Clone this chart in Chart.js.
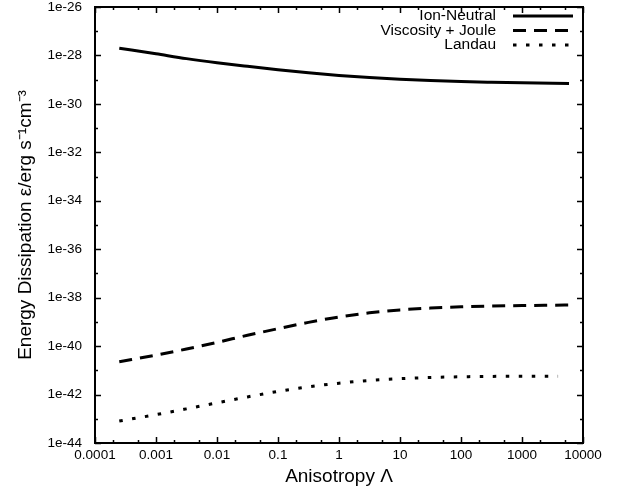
<!DOCTYPE html>
<html>
<head>
<meta charset="utf-8">
<script src="https://cdn.jsdelivr.net/npm/chart.js@4"></script>
<style>
    body { margin: 0; background: #fff; }
</style>
</head>
<body>
<canvas id="dissChart" width="620" height="490"></canvas>
<script>
// ================= DATA =================
const anisotropy = [2.5e-4, 1e-3, 3.16e-3, 1e-2, 3.16e-2, 0.1, 0.316, 1, 3.16, 10, 31.6, 100, 316, 1000, 5900];
const anisotropyLandau = [2.5e-4, 1e-3, 3.16e-3, 1e-2, 3.16e-2, 0.1, 0.316, 1, 3.16, 10, 31.6, 100, 316, 1000, 3900];

const ionNeutral = [2.0e-28, 1.17e-28, 7.4e-29, 5.0e-29, 3.55e-29, 2.57e-29, 1.93e-29, 1.5e-29, 1.22e-29, 1.035e-29, 9.2e-30, 8.4e-30, 7.85e-30, 7.4e-30, 6.9e-30];
const viscosityJoule = [2.24e-41, 4.27e-41, 7.6e-41, 1.43e-40, 2.79e-40, 5.25e-40, 9.55e-40, 1.6e-39, 2.37e-39, 3.13e-39, 3.72e-39, 4.17e-39, 4.52e-39, 4.73e-39, 5.0e-39];
const landau = [8.1e-44, 1.48e-43, 2.57e-43, 4.57e-43, 8.0e-43, 1.35e-42, 2.09e-42, 2.95e-42, 3.8e-42, 4.52e-42, 5.07e-42, 5.43e-42, 5.62e-42, 5.69e-42, 5.75e-42];

const xTicks = [1e-4, 1e-3, 1e-2, 1e-1, 1, 10, 100, 1000, 10000];
const yTicks = [1e-44, 1e-42, 1e-40, 1e-38, 1e-36, 1e-34, 1e-32, 1e-30, 1e-28, 1e-26];
const yMinor = [1e-43, 1e-41, 1e-39, 1e-37, 1e-35, 1e-33, 1e-31, 1e-29, 1e-27];
const xMinorMult = [2, 5];

const seriesNames = ["Ion-Neutral", "Viscosity + Joule", "Landau"];
const seriesDash = [[], [13, 8], [3.5, 9.5]];

const FONT = "'Liberation Sans', Arial, sans-serif";

function pairs(xs, ys) {
    return xs.map((x, i) => ({ x: x, y: ys[i] }));
}

// ================= FRAME / TICKS / LEGEND =================
const framePlugin = {
    id: "frame",
    afterDraw(chart) {
        const ctx = chart.ctx;
        const a = chart.chartArea;
        const xs = chart.scales.x;
        const ys = chart.scales.y;

        ctx.save();
        ctx.strokeStyle = "#000";
        ctx.lineWidth = 2;
        ctx.strokeRect(a.left, a.top, a.right - a.left, a.bottom - a.top);

        ctx.lineWidth = 1.5;
        ctx.beginPath();
        // x ticks, bottom and top
        xTicks.forEach((v, i) => {
            const px = Math.round(xs.getPixelForValue(v)) + 0.5;
            ctx.moveTo(px, a.bottom); ctx.lineTo(px, a.bottom - 6);
            ctx.moveTo(px, a.top); ctx.lineTo(px, a.top + 6);
            if (i < xTicks.length - 1) {
                xMinorMult.forEach(m => {
                    const mx = Math.round(xs.getPixelForValue(v * m)) + 0.5;
                    ctx.moveTo(mx, a.bottom); ctx.lineTo(mx, a.bottom - 3);
                    ctx.moveTo(mx, a.top); ctx.lineTo(mx, a.top + 3);
                });
            }
        });
        // y ticks, left and right
        yTicks.forEach(v => {
            const py = Math.round(ys.getPixelForValue(v)) + 0.5;
            ctx.moveTo(a.left, py); ctx.lineTo(a.left + 6, py);
            ctx.moveTo(a.right, py); ctx.lineTo(a.right - 6, py);
        });
        yMinor.forEach(v => {
            const py = Math.round(ys.getPixelForValue(v)) + 0.5;
            ctx.moveTo(a.left, py); ctx.lineTo(a.left + 3, py);
            ctx.moveTo(a.right, py); ctx.lineTo(a.right - 3, py);
        });
        ctx.stroke();

        // legend, top right inside the plot
        ctx.font = "15.5px " + FONT;
        ctx.fillStyle = "#000";
        ctx.textAlign = "right";
        ctx.textBaseline = "middle";
        ctx.lineWidth = 3;
        seriesNames.forEach((name, i) => {
            const y = 16 + i * 14.5;
            ctx.fillText(name, 496, y);
            ctx.setLineDash(seriesDash[i]);
            ctx.beginPath();
            ctx.moveTo(513, y);
            ctx.lineTo(573, y);
            ctx.stroke();
        });
        ctx.setLineDash([]);
        ctx.restore();
    }
};

// ================= CHART =================
window.onload = function () {
    const datasets = [
        { label: seriesNames[0], data: pairs(anisotropy, ionNeutral) },
        { label: seriesNames[1], data: pairs(anisotropy, viscosityJoule) },
        { label: seriesNames[2], data: pairs(anisotropyLandau, landau) }
    ].map((d, i) => Object.assign(d, {
        showLine: true,
        borderColor: "#000",
        borderWidth: 3,
        borderDash: seriesDash[i],
        pointRadius: 0,
        cubicInterpolationMode: "monotone",
        fill: false
    }));

    new Chart(document.getElementById("dissChart"), {
        type: "scatter",
        data: { datasets: datasets },
        options: {
            responsive: false,
            animation: false,
            layout: { padding: { top: 7, right: 37, left: 0, bottom: 0 } },
            plugins: {
                legend: { display: false },
                tooltip: { enabled: false }
            },
            scales: {
                x: {
                    type: "logarithmic",
                    min: 1e-4,
                    max: 1e4,
                    afterBuildTicks: s => { s.ticks = xTicks.map(v => ({ value: v })); },
                    afterFit: s => { s.height = 47; s.paddingLeft = 0; s.paddingRight = 0; },
                    grid: { display: false, drawTicks: false },
                    border: { display: false },
                    ticks: {
                        color: "#000",
                        font: { family: FONT, size: 13.5 },
                        padding: 4,
                        maxRotation: 0,
                        autoSkip: false,
                        callback: v => String(v)
                    },
                    title: {
                        display: true,
                        text: "Anisotropy Λ",
                        color: "#000",
                        font: { family: FONT, size: 19 },
                        padding: { top: 0, bottom: 2 }
                    }
                },
                y: {
                    type: "logarithmic",
                    min: 1e-44,
                    max: 1e-26,
                    afterBuildTicks: s => { s.ticks = yTicks.map(v => ({ value: v })); },
                    afterFit: s => { s.width = 95; s.paddingTop = 0; s.paddingBottom = 0; },
                    grid: { display: false, drawTicks: false },
                    border: { display: false },
                    ticks: {
                        color: "#000",
                        font: { family: FONT, size: 13.5 },
                        padding: 13,
                        autoSkip: false,
                        callback: v => "1e" + Math.round(Math.log10(v))
                    },
                    title: {
                        display: true,
                        text: "Energy Dissipation ε/erg s⁻¹cm⁻³",
                        color: "#000",
                        font: { family: FONT, size: 19 },
                        padding: { top: 14, bottom: 0 }
                    }
                }
            }
        },
        plugins: [framePlugin]
    });
};
</script>
</body>
</html>
